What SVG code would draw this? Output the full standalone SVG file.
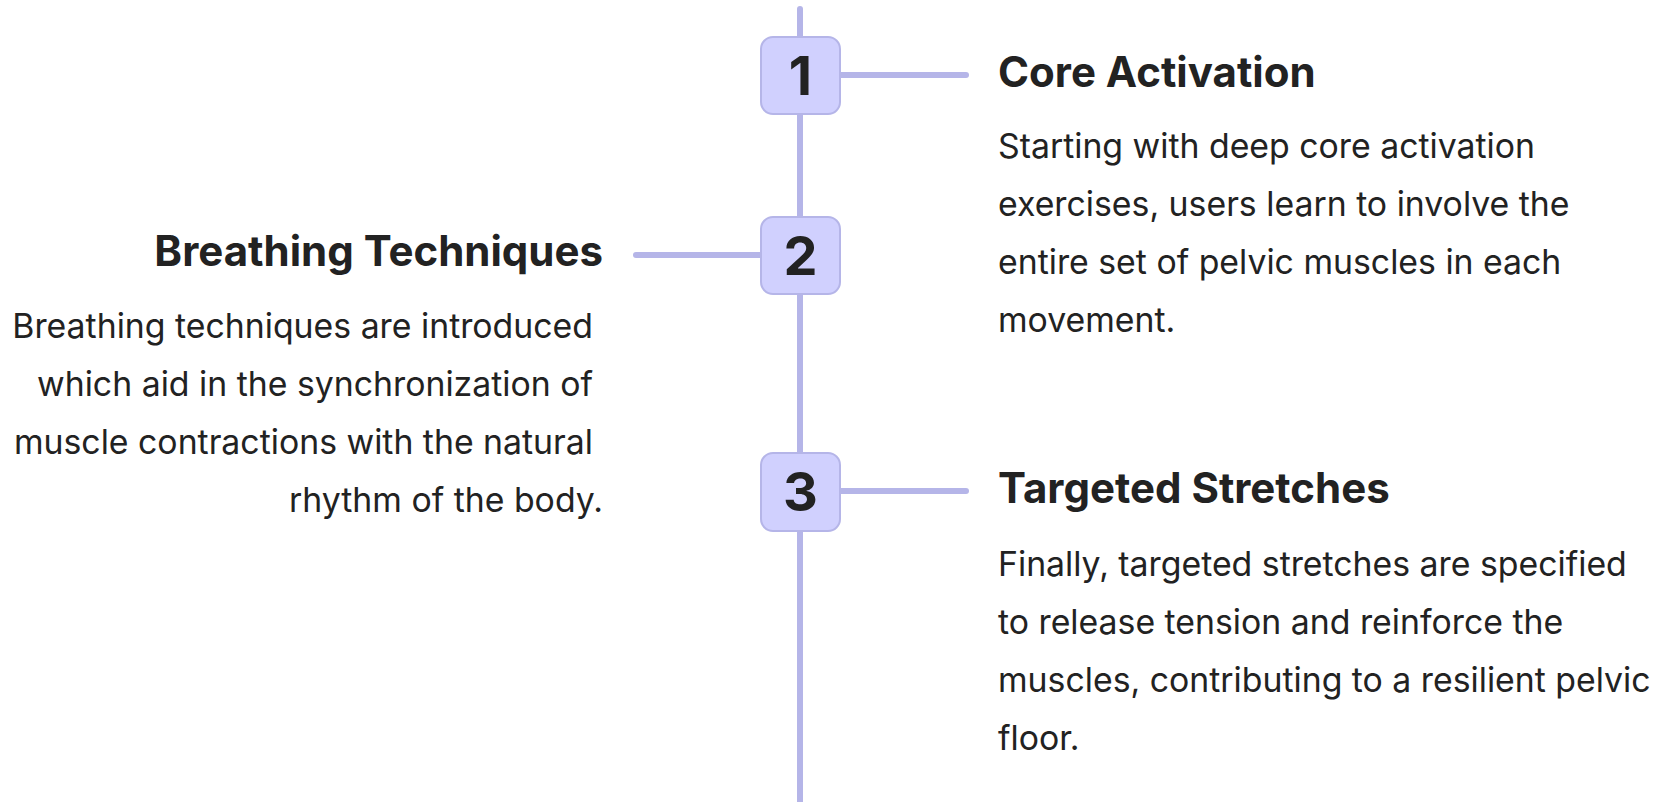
<svg xmlns="http://www.w3.org/2000/svg" width="1655" height="802" viewBox="0 0 1655 802">
<style>
.ln{stroke:#b5b5e8;stroke-width:6;stroke-linecap:round;fill:none}
.box{fill:#d0d0fe;stroke:#b5b5e8;stroke-width:2}
.num{font-family:Inter,"Liberation Sans",sans-serif;font-weight:700;font-size:54px;fill:#222;text-anchor:middle}
.tt{font-family:Inter,"Liberation Sans",sans-serif;font-weight:700;font-size:42px;fill:#222}
.bd{font-family:Inter,"Liberation Sans",sans-serif;font-size:33.8px;fill:#222}
.r{text-anchor:end}
</style>
<rect width="1655" height="802" fill="#fff"/>
<g id="connectors">
<line class="ln" x1="800" y1="9" x2="800" y2="802"/>
<line class="ln" x1="841" y1="75" x2="966" y2="75"/>
<line class="ln" x1="636" y1="255" x2="760" y2="255"/>
<line class="ln" x1="841" y1="491" x2="966" y2="491"/>
</g>
<g id="step1">
<rect class="box" x="761" y="37" width="79" height="77" rx="12"/>
<text class="num" x="800.5" y="95">1</text>
<text class="tt" x="998" y="87">Core Activation</text>
<text class="bd" x="998" y="158">Starting with deep core activation</text>
<text class="bd" x="998" y="216">exercises, users learn to involve the</text>
<text class="bd" x="998" y="274">entire set of pelvic muscles in each</text>
<text class="bd" x="998" y="332">movement.</text>
</g>
<g id="step2">
<rect class="box" x="761" y="217" width="79" height="77" rx="12"/>
<text class="num" x="800.5" y="275">2</text>
<text class="tt r" x="603" y="266">Breathing Techniques</text>
<text class="bd r" x="593" y="338">Breathing techniques are introduced</text>
<text class="bd r" x="593" y="396">which aid in the synchronization of</text>
<text class="bd r" x="593" y="454">muscle contractions with the natural</text>
<text class="bd r" x="603" y="512">rhythm of the body.</text>
</g>
<g id="step3">
<rect class="box" x="761" y="453" width="79" height="78" rx="12"/>
<text class="num" x="800.5" y="511">3</text>
<text class="tt" x="998" y="503">Targeted Stretches</text>
<text class="bd" x="998" y="576">Finally, targeted stretches are specified</text>
<text class="bd" x="998" y="634">to release tension and reinforce the</text>
<text class="bd" x="998" y="692">muscles, contributing to a resilient pelvic</text>
<text class="bd" x="998" y="750">floor.</text>
</g>
</svg>
